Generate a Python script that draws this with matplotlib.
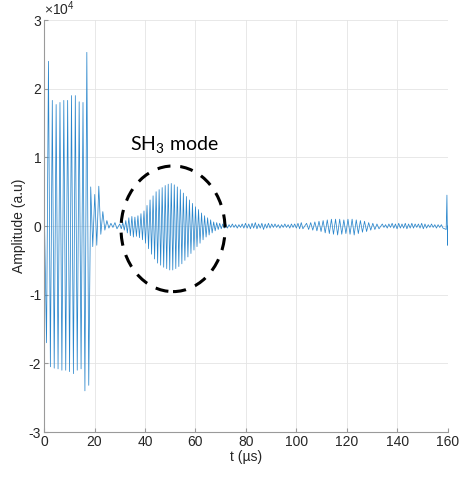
import numpy as np
import matplotlib
matplotlib.use('Agg')
import matplotlib.pyplot as plt
from matplotlib.patches import Ellipse
from matplotlib.ticker import FuncFormatter

plt.rcParams['axes.unicode_minus'] = False
plt.rcParams['mathtext.fontset'] = 'custom'
plt.rcParams['mathtext.rm'] = 'Lato'

# peak values of the signal, in units of 1e4
# segment: (start time [us], half period [us], extrema)
burst = [0.48, -1.70, 2.40, -2.05, 1.83, -2.07, 1.77, -2.08, 1.80, -2.10, 1.83, -2.10,
         1.83, -2.12, 1.90, -2.15, 1.90, -2.10, 1.81, -2.08, 1.80, -2.40, 2.53, -2.32]
ringdown = [0.57, -0.30, 0.46, -0.28, 0.58, -0.12, 0.21, -0.06, 0.08, -0.03, 0.04, -0.02,
            0.05, -0.04]

sh3_pos = [0.03, 0.05, 0.08, 0.12, 0.14, 0.13, 0.15, 0.18, 0.22, 0.30, 0.38, 0.44, 0.50,
           0.53, 0.56, 0.59, 0.61, 0.62, 0.60, 0.57, 0.53, 0.48, 0.43, 0.38, 0.33, 0.28,
           0.24, 0.19, 0.15, 0.12, 0.09, 0.06, 0.05, 0.04, 0.03]
sh3_neg = [0.04, 0.06, 0.10, 0.14, 0.16, 0.15, 0.17, 0.20, 0.25, 0.33, 0.41, 0.48, 0.54,
           0.57, 0.60, 0.62, 0.64, 0.64, 0.62, 0.59, 0.55, 0.50, 0.45, 0.40, 0.35, 0.30,
           0.25, 0.20, 0.16, 0.13, 0.10, 0.07, 0.05, 0.04, 0.03]

noise1 = [0.03, -0.03, 0.02, -0.02, 0.03, -0.02, 0.02, -0.03, 0.02, -0.02, 0.03, -0.03,
          0.04, -0.03, 0.03, -0.04, 0.04, -0.03, 0.05, -0.04, 0.03, -0.03, 0.04, -0.05,
          0.03, -0.03, 0.04, -0.03, 0.03, -0.02, 0.03, -0.02, 0.02, -0.03, 0.02, -0.02,
          0.03, -0.02, 0.02, -0.03, 0.03, -0.02, 0.03, -0.03, 0.04, -0.04, 0.05, -0.04]

late_pos = [0.04, 0.05, 0.06, 0.07, 0.08, 0.09, 0.10, 0.10, 0.10, 0.09, 0.10, 0.10, 0.09,
            0.08, 0.07, 0.05, 0.04, 0.03]
late_neg = [0.05, 0.06, 0.07, 0.08, 0.10, 0.11, 0.12, 0.13, 0.12, 0.11, 0.12, 0.13, 0.11,
            0.09, 0.08, 0.06, 0.05, 0.04]

noise2 = [0.03, -0.02, 0.02, -0.03, 0.03, -0.02, 0.04, -0.03, 0.03, -0.04, 0.04, -0.03,
          0.03, -0.03, 0.04, -0.04, 0.03, -0.03, 0.04, -0.03, 0.03, -0.02, 0.03, -0.03,
          0.04, -0.04, 0.03, -0.03, 0.02, -0.02, 0.03, -0.02, 0.02, -0.03, 0.02, -0.02,
          0.02, -0.03]
spike_t = [159.3, 159.6, 159.85, 160.0]
spike_y = [-0.05, 0.45, -0.28, 0.0]


def interleave(p, n):
    out = []
    for a, b in zip(p, n):
        out += [a, -b]
    return out


segments = [
    (0.0, 0.76, burst),
    (18.5, 0.80, ringdown),
    (30.0, 0.60, interleave(sh3_pos, sh3_neg)),
    (72.0, 0.65, noise1),
    (104.0, 0.82, interleave(late_pos, late_neg)),
    (134.0, 0.65, noise2),
]

t = []
y = []
for t0, dt, vals in segments:
    if t0 == 0.0:
        # first point at t=0, the rest start at 1 us
        t += [0.0] + list(1.0 + dt * np.arange(len(vals) - 1))
    else:
        t += list(t0 + dt * np.arange(len(vals)))
    y += vals
t += spike_t
y += spike_y
t = np.array(t)
y = np.array(y) * 1e4

fig = plt.figure(figsize=(4.59, 4.79), dpi=100)
ax = fig.add_axes([0.0959, 0.0981, 0.880, 0.860])

ax.plot(t, y, color='#2a86cc', lw=0.55)

ax.set_xlim(0, 160)
ax.set_ylim(-3e4, 3e4)
ax.set_xticks(np.arange(0, 161, 20))
ax.set_yticks(np.arange(-3e4, 3.1e4, 1e4))
ax.yaxis.set_major_formatter(FuncFormatter(lambda v, p: '%d' % round(v / 1e4)))

ax.grid(True, color='#e4e4e4', lw=0.6)
ax.set_axisbelow(True)
for s in ['top', 'right']:
    ax.spines[s].set_visible(False)
for s in ['left', 'bottom']:
    ax.spines[s].set_color('#9a9a9a')
    ax.spines[s].set_linewidth(0.8)
ax.tick_params(direction='in', length=3, color='#9a9a9a', labelsize=10,
               labelcolor='#262626', pad=2)
for lab in ax.get_xticklabels() + ax.get_yticklabels():
    lab.set_family('Liberation Sans')

# exponent label like MATLAB
ax.text(0.0, 1.005, r'$\times\mathregular{10^4}$', transform=ax.transAxes,
        fontsize=10, color='#262626', ha='left', va='bottom', family='Liberation Sans')

ax.set_xlabel('t (µs)', fontsize=10, family='Liberation Sans', color='#262626', labelpad=1)
ax.set_ylabel('Amplitude (a.u)', fontsize=10, family='Liberation Sans', color='#262626', labelpad=2)

ell = Ellipse((51.1, -0.04e4), 41.2, 1.83e4, fill=False, ec='black', lw=2.2,
              ls=(0, (4.3, 3.2)), zorder=5)
ax.add_patch(ell)

ax.text(51.5, 1.18e4, r'SH$_\mathregular{3}$ mode', fontsize=14, family='Lato',
        ha='center', va='center', color='black')

fig.savefig('out.png', dpi=100)
